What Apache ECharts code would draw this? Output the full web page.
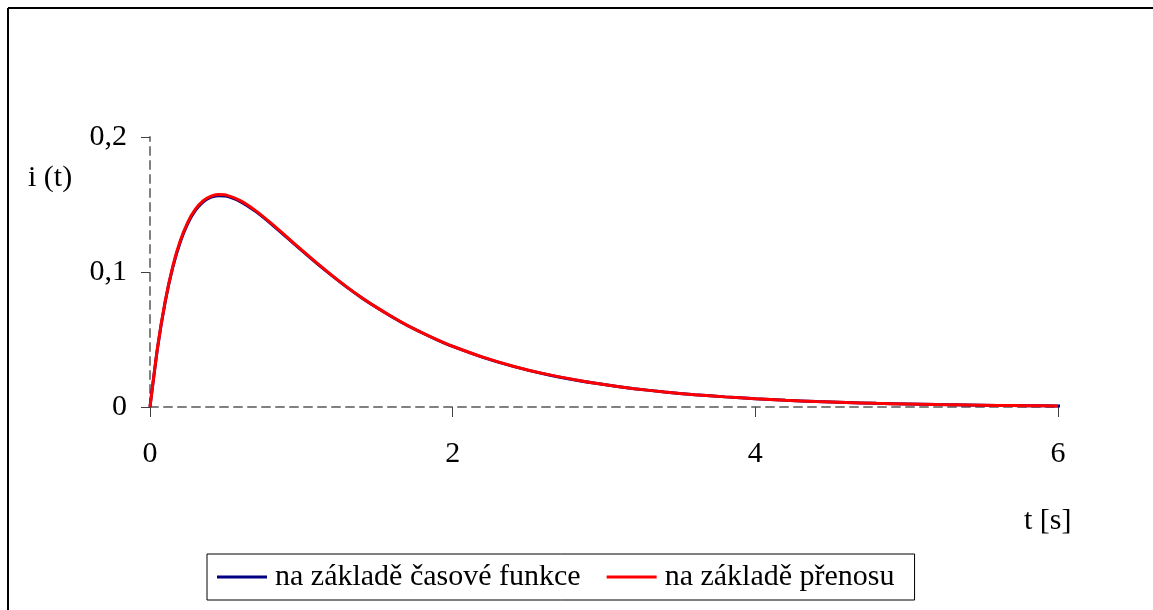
<!DOCTYPE html>
<html>
<head>
<meta charset="utf-8">
<script src="https://cdn.jsdelivr.net/npm/echarts@6/dist/echarts.min.js"></script>
<style>
  html, body { margin: 0; padding: 0; background: #fff; }
  #chart { width: 1153px; height: 610px; }
</style>
</head>
<body>
<div id="chart"></div>
<script>
// cas t [s]
var tTime = [0, 0.05, 0.1, 0.15, 0.2, 0.25, 0.3, 0.35, 0.4, 0.45, 0.5, 0.6, 0.7, 0.8, 0.9, 1.0,
  1.1, 1.2, 1.3, 1.4, 1.5, 1.6, 1.7, 1.8, 1.9, 2.0, 2.2, 2.4, 2.6, 2.8, 3.0, 3.2, 3.4, 3.6, 3.8,
  4.0, 4.2, 4.4, 4.6, 4.8, 5.0, 5.2, 5.4, 5.6, 5.8, 6.0];
// modra krivka jde kousek za 6
var tCasova = tTime.concat([6.04]);

// i(t) - na zaklade casove funkce
var iCasova = [0, 0.0438, 0.0776, 0.1033, 0.1223, 0.1361, 0.1456, 0.1518, 0.1552, 0.1565, 0.1563,
  0.1520, 0.1447, 0.1357, 0.1260, 0.1162, 0.1066, 0.0975, 0.0888, 0.0808, 0.0735, 0.0667, 0.0604,
  0.0548, 0.0496, 0.0449, 0.0368, 0.0301, 0.0246, 0.0202, 0.0166, 0.0136, 0.0111, 0.0091, 0.0075,
  0.0061, 0.0050, 0.0041, 0.0034, 0.0027, 0.0023, 0.0018, 0.0015, 0.0012, 0.0010, 0.0008, 0.0008];

// i(t) - na zaklade prenosu
var iPrenos = [0, 0.0442, 0.0782, 0.1040, 0.1231, 0.1370, 0.1465, 0.1527, 0.1561, 0.1574, 0.1571,
  0.1527, 0.1453, 0.1362, 0.1264, 0.1165, 0.1069, 0.0977, 0.0890, 0.0810, 0.0736, 0.0668, 0.0605,
  0.0549, 0.0497, 0.0450, 0.0369, 0.0302, 0.0247, 0.0203, 0.0166, 0.0136, 0.0111, 0.0091, 0.0075,
  0.0061, 0.0050, 0.0041, 0.0034, 0.0027, 0.0023, 0.0018, 0.0015, 0.0012, 0.0010, 0.0008];

var seriesNames = ['na základě časové funkce', 'na základě přenosu'];
var xTicks = [0, 6, 2];     // min, max, interval
var yTicks = [0, 0.2, 0.1];

function pairs(xs, ys) {
  return xs.map(function (x, i) { return [x, ys[i]]; });
}

var font = 'Liberation Serif';
var chart = echarts.init(document.getElementById('chart'));

chart.setOption({
  animation: false,
  backgroundColor: '#fff',
  grid: { left: 150, right: 95, top: 137, bottom: 203, containLabel: false },
  xAxis: {
    type: 'value',
    min: xTicks[0], max: xTicks[1], interval: xTicks[2],
    axisLine: { lineStyle: { color: '#808080', width: 2, type: [8, 6] } },
    axisTick: { length: 10, lineStyle: { color: '#404040', width: 1 } },
    axisLabel: { margin: 32, color: '#000', fontFamily: font, fontSize: 30 },
    splitLine: { show: false }
  },
  yAxis: {
    type: 'value',
    min: yTicks[0], max: yTicks[1], interval: yTicks[2],
    axisLine: { show: true, lineStyle: { color: '#808080', width: 2, type: [8, 6] } },
    axisTick: { show: true, length: 9, lineStyle: { color: '#404040', width: 1 } },
    axisLabel: {
      margin: 23, color: '#000', fontFamily: font, fontSize: 30,
      formatter: function (v) { return String(v).replace('.', ','); }
    },
    splitLine: { show: false }
  },
  legend: {
    left: 207, top: 554,
    padding: [8, 20, 8, 10],
    borderColor: '#000', borderWidth: 1,
    icon: 'rect', itemWidth: 50, itemHeight: 3, itemGap: 26,
    textStyle: { color: '#000', fontFamily: font, fontSize: 30, padding: [0, 0, 0, 3] },
    data: seriesNames
  },
  series: [
    {
      name: seriesNames[0], type: 'line', data: pairs(tCasova, iCasova),
      showSymbol: false, smooth: 0.2, clip: false,
      lineStyle: { color: '#000080', width: 3 }, itemStyle: { color: '#000080' }
    },
    {
      name: seriesNames[1], type: 'line', data: pairs(tTime, iPrenos),
      showSymbol: false, smooth: 0.2, clip: false,
      lineStyle: { color: '#ff0000', width: 3 }, itemStyle: { color: '#ff0000' }
    }
  ],
  graphic: [
    { type: 'line', shape: { x1: 8, y1: 8, x2: 1153, y2: 8 }, style: { stroke: '#000', lineWidth: 2 } },
    { type: 'line', shape: { x1: 8, y1: 8, x2: 8, y2: 610 }, style: { stroke: '#000', lineWidth: 2 } },
    { type: 'text', left: 28, top: 163, style: { text: 'i (t)', fill: '#000', font: '30px "Liberation Serif"', textVerticalAlign: 'middle' } },
    { type: 'text', left: 1024, top: 506, style: { text: 't [s]', fill: '#000', font: '30px "Liberation Serif"', textVerticalAlign: 'middle' } }
  ]
});
</script>
</body>
</html>
